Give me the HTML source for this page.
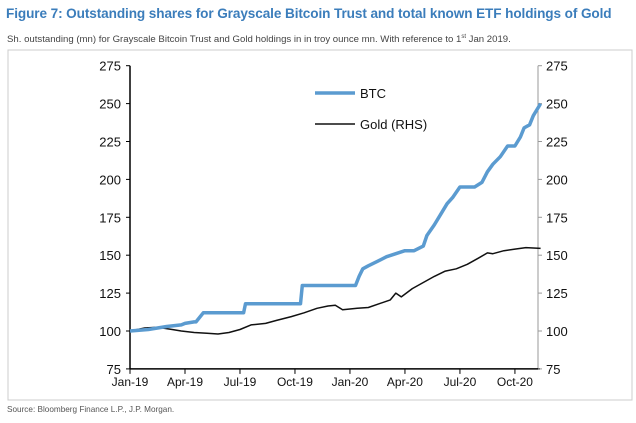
<!DOCTYPE html>
<html><head><meta charset="utf-8"><style>
body{margin:0;background:#fff;font-family:"Liberation Sans",Arial,sans-serif;}
#wrap{position:relative;width:636px;height:423px;overflow:hidden;}
.title{position:absolute;left:6px;top:6px;font-size:13.6px;font-weight:bold;color:#3b7dbb;white-space:nowrap;letter-spacing:-0.1px;}
.sub{position:absolute;left:7px;top:34px;font-size:9.6px;color:#444;white-space:nowrap;}
.src{position:absolute;left:7px;top:405px;font-size:8.2px;color:#555;}
</style></head><body>
<div id="wrap">
<div class="title">Figure 7: Outstanding shares for Grayscale Bitcoin Trust and total known ETF holdings of Gold</div>
<div class="sub">Sh. outstanding (mn) for Grayscale Bitcoin Trust and Gold holdings in in troy ounce mn. With reference to 1<sup style="font-size:6px">st</sup> Jan 2019.</div>
<svg id="chart" width="636" height="423" style="position:absolute;left:0;top:0"></svg>
<div class="src">Source: Bloomberg Finance L.P., J.P. Morgan.</div>
</div>
<script>
const xLabels=["Jan-19","Apr-19","Jul-19","Oct-19","Jan-20","Apr-20","Jul-20","Oct-20"];
const yTicks=[75,100,125,150,175,200,225,250,275];
const btcMonths=[0,1,2,2.8,3,3.5,3.6,4,6.2,6.3,9.3,9.4,12.3,12.5,12.7,13,13.5,14,14.5,15,15.5,16,16.2,16.6,17,17.3,17.6,18,18.8,19.2,19.5,19.8,20.2,20.6,21,21.3,21.5,21.8,22,22.4];
const btcValues=[100,101,103,104,105,106,106,112,112,118,118,130,130,136,141,143,146,149,151,153,153,156,163,170,178,184,188,195,195,198,205,210,215,222,222,228,234,236,242,250];
const goldMonths=[0,0.8,1.5,2.3,2.8,3.5,4.2,4.8,5.4,6,6.6,7.4,8,8.8,9.5,10.2,10.8,11.2,11.6,12.4,13,13.6,14.2,14.5,14.8,15.4,16,16.6,17.2,17.8,18.4,19,19.5,19.8,20.4,21,21.6,22.4];
const goldValues=[100,102,102.5,101,100,99,98.5,98,99,101,104,105,107,109.5,112,115,116.5,117,114,115,115.5,118,120.5,125,122.5,128,132,136,139.5,141,144,148,151.5,151,153,154,155,154.5];
const svg=document.getElementById('chart');
const NS='http://www.w3.org/2000/svg';
const X0=130,XM=18.33,Y100=331,YU=37.9/25;
const sx=m=>X0+m*XM, sy=v=>Y100-(v-100)*YU;
function el(t,a,p){const e=document.createElementNS(NS,t);for(const k in a)e.setAttribute(k,a[k]);(p||svg).appendChild(e);return e;}
const box=el('rect',{x:8,y:50,width:624,height:350,fill:'none',stroke:'#ccc','stroke-width':1});


const la=el('line',{x1:X0,y1:sy(275),x2:X0,y2:sy(75),stroke:'#000','stroke-width':1.5});


const ra=el('line',{x1:538,y1:sy(275),x2:538,y2:sy(75),stroke:'#999','stroke-width':1});


const xa=el('line',{x1:X0,y1:sy(75),x2:540,y2:sy(75),stroke:'#000','stroke-width':1.5});


yTicks.forEach(v=>{
 el('line',{x1:X0-4,y1:sy(v),x2:X0,y2:sy(v),stroke:'#000'});
 el('line',{x1:538,y1:sy(v),x2:542,y2:sy(v),stroke:'#999'});
 const t=el('text',{x:X0-9,y:sy(v)+5,'text-anchor':'end','font-size':13,fill:'#111'});t.textContent=v;
 
 
 const t2=el('text',{x:546,y:sy(v)+5,'font-size':13,fill:'#111'});t2.textContent=v;
 
 
});
xLabels.forEach((l,i)=>{
 const x=sx(i*3);
 el('line',{x1:x,y1:sy(75),x2:x,y2:sy(75)+5,stroke:'#000'});
 const t=el('text',{x:x,y:sy(75)+17,'text-anchor':'middle','font-size':12,fill:'#111'});t.textContent=l;
 
 
});
function path(ms,vs,stroke,w,name){
 const d=ms.map((m,i)=>(i?'L':'M')+sx(m).toFixed(1)+','+sy(vs[i]).toFixed(1)).join('');
 const p=el('path',{d:d,fill:'none',stroke:stroke,'stroke-width':w,'stroke-linejoin':'round'});
 
 
}
path(goldMonths,goldValues,'#111',1.5,'gold-line');
path(btcMonths,btcValues,'#5b9bd0',3.5,'btc-line');
const l1=el('line',{x1:315,y1:93,x2:355,y2:93,stroke:'#5b9bd0','stroke-width':3.5});


const t1=el('text',{x:360,y:98,'font-size':13,fill:'#111'});t1.textContent='BTC';


const l2=el('line',{x1:315,y1:124,x2:355,y2:124,stroke:'#111','stroke-width':1.5});


const t2=el('text',{x:360,y:129,'font-size':13,fill:'#111'});t2.textContent='Gold (RHS)';


</script>
</body></html>
